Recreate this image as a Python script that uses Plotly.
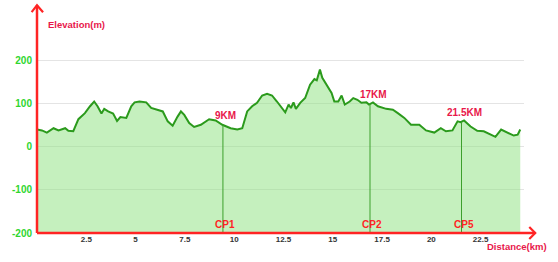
import numpy as np
import plotly.graph_objects as go

# ---- data ----
distance_km = [0.0, 0.25, 0.5, 0.84, 1.09, 1.43, 1.59, 1.84, 2.10, 2.43, 2.69, 2.90, 3.07, 3.27,
               3.41, 3.61, 3.86, 4.06, 4.23, 4.53, 4.78, 4.95, 5.20, 5.54, 5.79, 6.13, 6.38,
               6.63, 6.88, 7.13, 7.30, 7.47, 7.72, 7.97, 8.31, 8.73, 9.06, 9.40, 9.82, 10.16,
               10.41, 10.66, 10.91, 11.16, 11.42, 11.67, 11.92, 12.17, 12.43, 12.59, 12.76,
               12.88, 13.01, 13.13, 13.35, 13.60, 13.85, 14.07, 14.19, 14.35, 14.47, 14.69,
               14.94, 15.08, 15.28, 15.45, 15.61, 15.86, 16.04, 16.25, 16.45, 16.71, 16.84,
               17.04, 17.29, 17.71, 18.05, 18.30, 18.63, 18.97, 19.39, 19.73, 20.15, 20.48,
               20.74, 21.07, 21.33, 21.49, 21.66, 21.99, 22.33, 22.66, 23.00, 23.25, 23.54,
               23.84, 24.18, 24.38, 24.51]
elevation_m = [40, 38, 33, 43, 38, 43, 37, 36, 64, 78, 94, 105, 94, 77,
               88, 82, 77, 60, 69, 67, 94, 103, 105, 103, 90, 86, 82,
               59, 49, 70, 82, 74, 55, 46, 51, 64, 61, 51, 43, 40,
               43, 82, 94, 102, 119, 123, 119, 105, 88, 80, 98,
               90, 103, 88, 102, 113, 144, 157, 154, 179, 160, 144,
               125, 105, 105, 119, 98, 105, 113, 109, 102, 103, 98,
               103, 94, 88, 86, 78, 67, 51, 51, 38, 33, 43,
               36, 38, 59, 57, 61, 47, 37, 36, 28, 23, 40,
               33, 26, 28, 40]
checkpoint_km = [9.43, 16.89, 21.53]
checkpoint_labels = ["9KM", "17KM", "21.5KM"]
checkpoint_names = ["CP1", "CP2", "CP5"]
x_ticks = [2.5, 5, 7.5, 10, 12.5, 15, 17.5, 20, 22.5]
y_ticks = [-200, -100, 0, 100, 200]

# ---- layout constants (pixels) ----
W, H = 558, 262
ML, MR, MT, MB = 33.4, 34.3, 38.9, 28.5
PW = W - ML - MR
PH = H - MT - MB
XR = [0, 24.7]
YR = [-200, 250]

def px_x(p):  # pixel x -> paper
    return (p - ML) / PW

def px_y(p):  # pixel y -> paper
    return (H - MB - p) / PH

RED = "#ff2424"
CRIMSON = "#e8174a"
LINE_GREEN = "#2b9a1c"
FONT = "Liberation Sans, Arial, sans-serif"

fig = go.Figure()
fig.add_trace(go.Scatter(x=[distance_km[0], distance_km[-1]], y=[YR[0], YR[0]],
                         mode="lines", line=dict(width=0), hoverinfo="skip", showlegend=False))
fig.add_trace(go.Scatter(x=distance_km, y=elevation_m, mode="lines",
                         line=dict(color=LINE_GREEN, width=2),
                         fill="tonexty", fillcolor="rgba(140,225,125,0.5)",
                         showlegend=False))

cp_elev = np.interp(checkpoint_km, distance_km, elevation_m)
shapes = []
annotations = []
for km, e, lab, name in zip(checkpoint_km, cp_elev, checkpoint_labels, checkpoint_names):
    shapes.append(dict(type="line", xref="x", yref="y", x0=km, x1=km, y0=YR[0], y1=e,
                       line=dict(color="#3da02c", width=1), layer="above"))
    annotations.append(dict(x=km, y=e, xref="x", yref="y", text="<b>%s</b>" % lab,
                            showarrow=False, yanchor="bottom", yshift=2, xshift=3,
                            font=dict(family=FONT, size=10, color=CRIMSON)))
    annotations.append(dict(x=km, y=YR[0], xref="x", yref="y", text="<b>%s</b>" % name,
                            showarrow=False, yanchor="bottom", yshift=1, xshift=2,
                            font=dict(family=FONT, size=10, color=RED)))

# axes with arrows
ax_w = 2.5
shapes.append(dict(type="line", xref="paper", yref="paper", x0=0, x1=0, y0=0, y1=px_y(5),
                   line=dict(color=RED, width=ax_w)))
shapes.append(dict(type="path", xref="paper", yref="paper",
                   path="M %f %f L %f %f L %f %f" % (px_x(28), px_y(12), 0, px_y(5), px_x(39.5), px_y(12)),
                   line=dict(color=RED, width=2.2)))
shapes.append(dict(type="line", xref="paper", yref="paper", x0=0, x1=px_x(535), y0=0, y1=0,
                   line=dict(color=RED, width=ax_w)))
shapes.append(dict(type="path", xref="paper", yref="paper",
                   path="M %f %f L %f %f L %f %f" % (px_x(529), px_y(227.5), px_x(535), 0, px_x(529), px_y(239.5)),
                   line=dict(color=RED, width=2.2)))

annotations.append(dict(x=px_x(42), y=px_y(24), xref="paper", yref="paper",
                        text="<b>Elevation(m)</b>", showarrow=False, xanchor="left", yanchor="middle",
                        font=dict(family=FONT, size=9.5, color=CRIMSON)))
annotations.append(dict(x=px_x(517), y=px_y(247.5), xref="paper", yref="paper",
                        text="<b>Distance(km)</b>", showarrow=False, xanchor="center", yanchor="middle",
                        font=dict(family=FONT, size=9.5, color=CRIMSON)))

fig.update_layout(
    width=W, height=H,
    margin=dict(l=ML, r=MR, t=MT, b=MB, pad=0),
    paper_bgcolor="white", plot_bgcolor="white",
    shapes=shapes, annotations=annotations,
    xaxis=dict(range=XR, tickvals=x_ticks, ticktext=["<b>%g</b>" % v for v in x_ticks],
               showgrid=False, zeroline=False, showline=False, ticks="",
               tickfont=dict(family=FONT, size=8, color="#333333"), ticklabelstandoff=0),
    yaxis=dict(range=YR, tickvals=y_ticks, ticktext=["<b>%g</b>" % v for v in y_ticks],
               showgrid=True, gridcolor="#e4e4e4", gridwidth=1, zeroline=False,
               showline=False, ticks="",
               tickfont=dict(family=FONT, size=10, color="#2fd62f"), ticklabelstandoff=4),
)

fig.write_html("out.html")
